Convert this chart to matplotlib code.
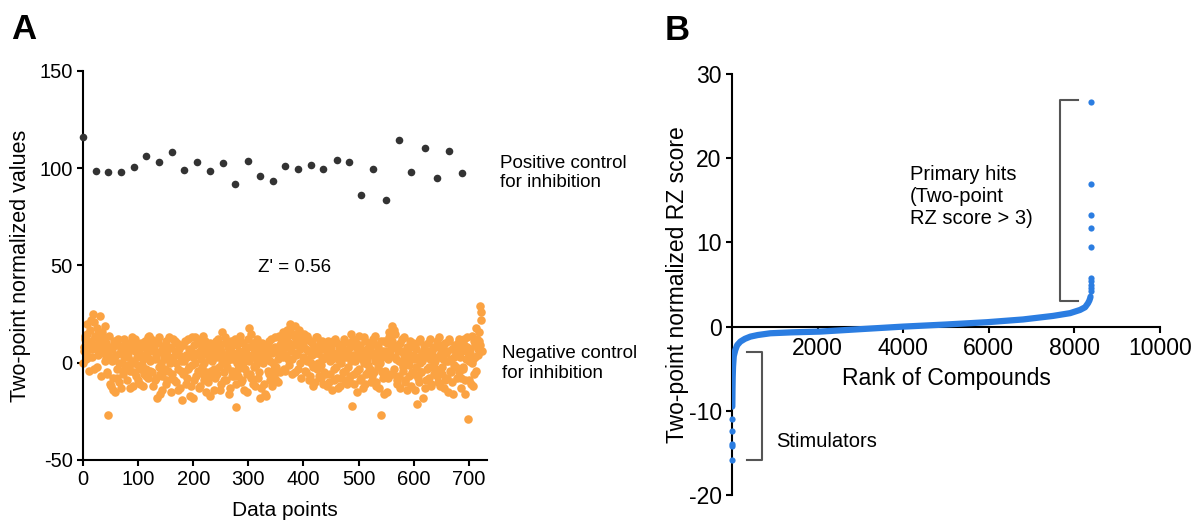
import matplotlib
matplotlib.use("Agg")
import matplotlib.pyplot as plt

plt.rcParams['font.family'] = ['Liberation Sans', 'DejaVu Sans']
plt.rcParams['axes.unicode_minus'] = False

# Panel A - positive control
pos_x = [0, 24, 46, 69, 92, 115, 138, 161, 184, 207, 230, 254, 276, 299, 322, 344,
         367, 390, 413, 436, 460, 483, 504, 527, 550, 574, 596, 620, 643, 665, 687]
pos_y = [116.3, 98.7, 98.3, 98.3, 100.4, 106.2, 103.3, 108.6, 99.0, 103.3, 98.7,
         102.8, 92.0, 103.8, 96.1, 93.2, 100.9, 99.5, 101.6, 99.5, 104.3, 103.3,
         86.3, 99.7, 83.8, 114.6, 98.0, 110.3, 95.2, 109.1, 97.8]

# Panel A - negative control, even data points (estimated)
neg_y_even = [
    0, 8, 12, 5, 15, 3, 10, 22, 7, 25, -3, 14, 9, 18, 4, 11, -7, 16, 6, 13,
    19, 2, -5, -27, 8, -12, 1, -8, 11, -15, 4, -3, 9, -10, 6, 0, -6, 12, -2, 7,
    -9, 3, 10, -4, 13, -12, 0, 6, -7, 9, -1, 4, -11, 8, 2, -6, 11, -3, 5, -8,
    14, 1, 12, -5, 7, -9, 3, -18, 10, -2, -16, 6, -7, 2, 9, -11, 4, -4, 13, 0,
    8, -6, 3, 11, -10, 5, -3, 7, -13, 1, -19, 9, -5, 4, -8, 12, -2, -17, 6, -1,
    3, -9, 13, 5, -4, 10, -12, 2, 8, -6, 0, 11, -15, 4, -7, -17, 6, 1, 9, -3,
    -8, 5, 12, -2, 7, -11, 16, 3, -5, 10, -9, 1, 6, -13, 8, -4, 2, -7, 4, -23,
    9, -3, 11, -10, 5, 0, -14, 7, 3, -6, 12, 18, -8, 4, 10, -2, -12, 6, 1, 9,
    -5, -18, 3, 8, -11, 2, -17, 6, -4, 11, -9, 5, 0, -7, 13, -2, 7, -10, 4, 9,
    12, 3, 15, -4, 8, 17, 2, 10, 20, 6, -6, 14, 19, 4, 11, -3, 16, 7, -8, 13,
    9, 2, -5, 14, 6, -9, 11, 0, 4, -12, 8, 13, -3, 5, -7, 10, -1, 3, -11, 7,
    -6, 4, 11, -10, 1, 8, -14, 5, -3, 12, -8, 2, 7, -12, 0, 9, -5, 3, -9, 6,
    -2, 10, -7, 15, -22, 4, -11, 1, 8, -4, 14, -9, 3, 6, -13, 0, 11, -6, 2, -1,
    7, -10, 4, 12, -5, 1, -12, 9, -2, 5, -27, 3, -8, 11, -4, 6, -15, 2, 16, -6,
    19, 8, -3, 15, 2, -11, 6, -7, 10, 0, -4, 13, -9, 3, -14, 5, -1, 8, -12, 4,
    -6, 9, -2, -21, 3, -10, 12, -5, 1, 7, -13, 4, -3, 10, -8, 2, -11, 6, 0, -4,
    8, -7, 3, 13, -12, 5, -2, 9, -9, 1, 6, -15, 11, -4, 2, -10, 7, -1, 4, -8,
    10, -5, 3, -13, 6, -2, 12, -9, 8, -29, 1, 5, -11, 14, 2, -6, 9, 18, 4, 11,
    29, 26, 6]
# odd data points (estimated)
neg_y_odd = [
    6, 14, 2, 20, 9, -4, 17, 11, 3, 21, 13, 7, -2, 15, 10, 24, 5, 12, 8, 1,
    10, -6, 5, 14, -11, 3, 7, -14, 2, 9, -8, 12, 0, 5, -13, 8, -4, 3, 10, -1,
    5, -2, -13, 9, 1, 7, -5, 12, 3, -9, 6, -3, 10, -1, -12, 4, 8, -7, 13, 2,
    -4, 9, 6, -12, 11, 2, -8, 5, 13, -6, 0, -14, 8, 4, -3, 11, -9, 7, 1, -15,
    2, 12, -9, 6, 0, 10, -14, 4, -4, 9, -6, 1, 11, -11, 3, -3, 7, -12, 13, -18,
    9, 0, -7, 12, 4, -13, 6, -2, 14, -9, 5, -5, 8, -10, 2, 10, -4, 7, -14, 3,
    11, -6, 3, 9, -14, 6, 0, -9, 13, 4, -2, 8, -16, 2, 11, -7, 5, 12, -11, 0,
    -7, 6, 14, 2, -9, 10, -3, 5, -15, 8, 1, -6, 15, 3, -11, 7, -1, 12, -8, 4,
    7, -13, 10, 0, 5, -16, 3, 9, -6, 1, 12, -12, 6, -3, 8, -9, 2, 14, -5, 10,
    6, 16, -3, 11, 4, 13, -1, 18, 8, 2, 15, 9, -5, 12, 5, 17, 0, 10, 14, 3,
    15, -4, 7, 1, 12, -7, 4, 10, -2, 8, -10, 5, 13, 0, 7, -8, 11, 2, -5, 9,
    3, -12, 6, 9, -6, 2, 11, -9, 4, -2, 10, -13, 5, 1, -8, 7, 12, -4, 3, -11,
    5, -9, 8, 1, 12, -6, 3, 10, -15, 6, -3, 9, -8, 2, 13, -11, 4, 7, -5, 10,
    -3, 9, -7, 5, 14, -10, 2, 8, -13, 0, 11, -5, 6, -16, 3, 10, -8, 13, 4, 7,
    11, -6, 17, 3, -9, 9, 1, -13, 6, 12, -2, 4, -10, 8, 0, -7, 11, 3, -5, 10,
    2, -14, 7, -8, 11, 0, -5, 5, -18, 9, 3, -9, 6, -2, 12, -12, 4, 8, -6, 1,
    -3, 11, -10, 4, 8, -6, 2, -13, 10, 5, -8, 1, 12, -5, 7, -16, 3, 9, -2, 6,
    4, 12, -8, 8, -3, 9, -16, 2, 13, 5, -9, 7, 0, -12, 11, 3, -4, 12, 7, 16,
    9, 22]
neg_x_even = list(range(0, 2 * len(neg_y_even), 2))
neg_x_odd = list(range(1, 2 * len(neg_y_odd), 2))

# Panel B - ranked compounds
stim_rank = [1, 2, 3, 4, 5]
stim_score = [-15.8, -14.2, -13.9, -12.4, -11.0]
curve_rank = [6, 10, 15, 23, 40, 77, 120, 194, 300, 427, 600, 895, 1400, 2056,
              3000, 3995, 5000, 5950, 6800, 7500, 7900, 8131, 8250, 8318, 8350,
              8370, 8377]
curve_score = [-9.5, -7.5, -6.0, -4.75, -3.5, -2.76, -2.2, -1.78, -1.45, -1.19,
               -1.0, -0.79, -0.68, -0.59, -0.3, 0.0, 0.25, 0.52, 0.85, 1.27, 1.6,
               1.98, 2.3, 2.78, 3.1, 3.4, 3.56]
hit_rank = [8378, 8379, 8380, 8381, 8382, 8383, 8384, 8385, 8386, 8387]
hit_score = [4.2, 4.6, 5.0, 5.4, 5.8, 9.4, 11.7, 13.3, 16.9, 26.7]

dark = '#333333'
orange = '#FBA343'
blue = '#2B7DE1'
gray = '#555555'

fig = plt.figure(figsize=(11.95, 5.22), dpi=100)
axA = fig.add_axes([0.0695, 0.1188, 0.338, 0.7452])
axB = fig.add_axes([0.6126, 0.0517, 0.3581, 0.8065])

for ax in (axA, axB):
    ax.spines['top'].set_visible(False)
    ax.spines['right'].set_visible(False)
    ax.spines['left'].set_linewidth(1.5)
    ax.spines['bottom'].set_linewidth(1.5)
    ax.tick_params(direction='out', length=4, width=1.5, labelsize=14.5)

# ---- Panel A
axA.scatter(neg_x_even, neg_y_even, s=38, color=orange, lw=0, clip_on=False, zorder=2)
axA.scatter(neg_x_odd, neg_y_odd, s=38, color=orange, lw=0, clip_on=False, zorder=2)
axA.scatter(pos_x, pos_y, s=30, color=dark, lw=0, clip_on=False, zorder=3)
axA.set_xlim(0, 733)
axA.set_ylim(-50, 150)
axA.set_xticks(range(0, 701, 100))
axA.set_yticks([-50, 0, 50, 100, 150])
axA.set_xlabel('Data points', fontsize=15, labelpad=8)
axA.set_ylabel('Two-point normalized values', fontsize=15.5, labelpad=6)

axA.text(318, 48.8, "Z' = 0.56", fontsize=13.5, va='center', ha='left')
axA.text(757, 97.6, 'Positive control\nfor inhibition', fontsize=13.5,
         va='center', ha='left', linespacing=1.2, clip_on=False)
axA.text(761, -0.4, 'Negative control\nfor inhibition', fontsize=13.5,
         va='center', ha='left', linespacing=1.2, clip_on=False)

# ---- Panel B
axB.spines['bottom'].set_position(('data', 0))
axB.tick_params(labelsize=16.5)
axB.plot(curve_rank, curve_score, color=blue, lw=4.5, solid_capstyle='round', zorder=3)
axB.scatter(stim_rank, stim_score, s=20, color=blue, lw=0, clip_on=False, zorder=3)
axB.scatter(hit_rank, hit_score, s=20, color=blue, lw=0, clip_on=False, zorder=3)
axB.set_xlim(0, 10000)
axB.set_ylim(-20, 30)
axB.set_xticks([2000, 4000, 6000, 8000, 10000])
axB.set_yticks([-20, -10, 0, 10, 20, 30])
axB.set_ylabel('Two-point normalized RZ score', fontsize=16.5, labelpad=0)
axB.text(5000, -6.2, 'Rank of Compounds', fontsize=16.5, ha='center', va='center')

# brackets
axB.plot([8084, 7664, 7664, 8084], [26.9, 26.9, 3.1, 3.1], color=gray, lw=1.5)
axB.plot([343, 694, 694, 343], [-3.0, -3.0, -15.8, -15.8], color=gray, lw=1.5)
axB.text(4160, 15.4, 'Primary hits\n(Two-point\nRZ score > 3)', fontsize=14.5,
         ha='left', va='center', linespacing=1.2)
axB.text(1028, -13.6, 'Stimulators', fontsize=14.5, ha='left', va='center')

fig.text(11 / 1195, 1 - 39 / 522, 'A', fontsize=25, fontweight='bold', va='baseline')
fig.text(665 / 1195, 1 - 40 / 522, 'B', fontsize=25, fontweight='bold', va='baseline')

fig.savefig('out.png', dpi=100)
